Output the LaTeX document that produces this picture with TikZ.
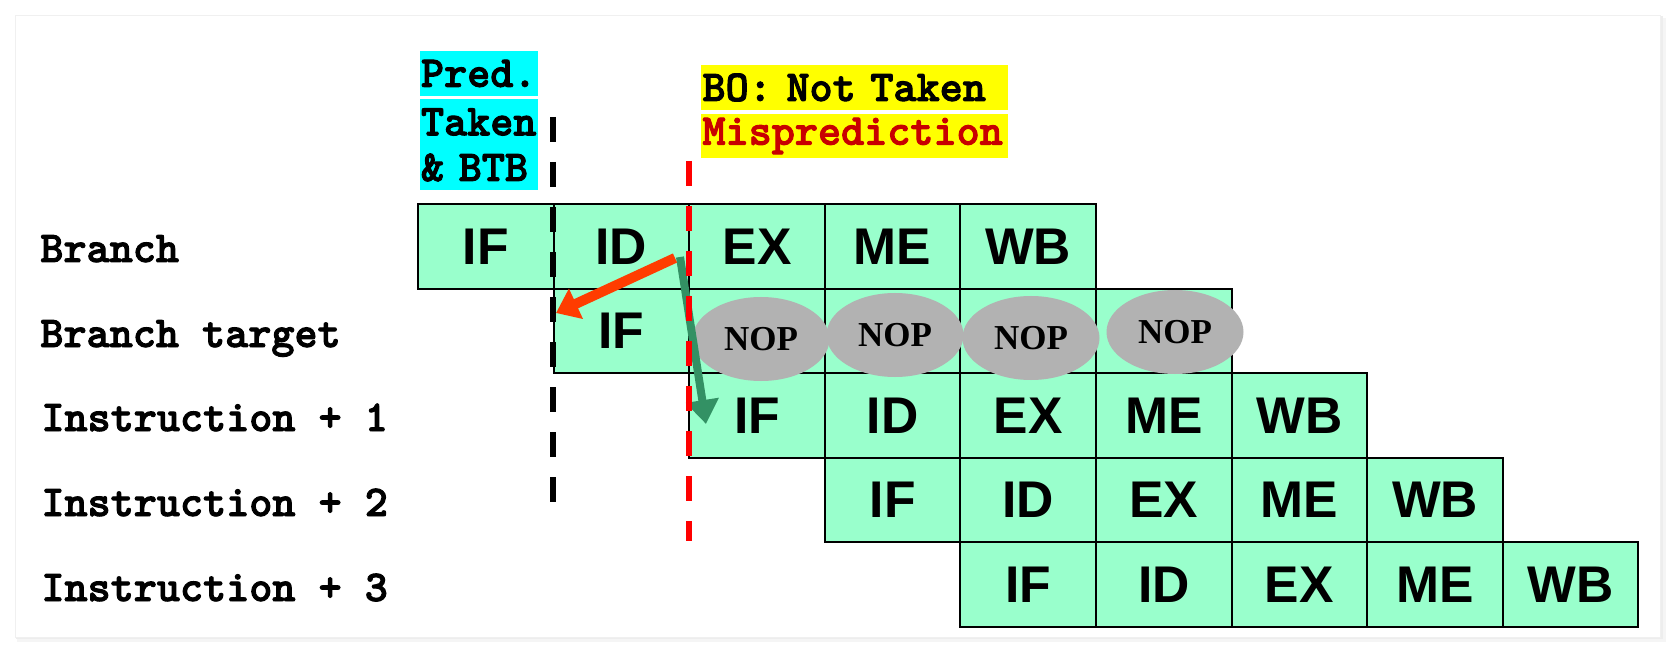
\documentclass[tikz,border=0pt]{standalone}
\usepackage{fontspec}
\setmainfont{Liberation Serif}
\newfontfamily\monob{lmmonolt10-bold.otf}[FakeBold=2.2]
\newfontfamily\sansb{Liberation Sans}
\usetikzlibrary{shapes.geometric,arrows.meta}
\definecolor{mint}{RGB}{153,255,204}
\definecolor{nopgray}{RGB}{178,178,178}
\definecolor{cyanbox}{RGB}{0,255,255}
\definecolor{yellowbox}{RGB}{255,255,0}
\definecolor{mispred}{RGB}{200,0,0}
\definecolor{redarrow}{RGB}{255,60,0}
\definecolor{greenarrow}{RGB}{51,145,100}
\definecolor{dashred}{RGB}{255,0,0}
\tikzset{
  cell/.style={draw=black, line width=1pt, fill=mint, minimum width=67.8pt, minimum height=42.3pt, inner sep=0pt,
    font=\sansb\bfseries\fontsize{25.8}{30}\selectfont},
  rowlabel/.style={inner sep=0pt, font=\monob\fontsize{22}{24}\selectfont},
  hdr/.style={inner sep=0pt, outer sep=0pt, font=\monob\fontsize{22}{24}\selectfont, align=left},
  nop/.style={ellipse, fill=nopgray, minimum width=68.5pt, minimum height=42pt, inner sep=0pt,
    font=\bfseries\fontsize{17.5}{20}\selectfont},
  redarr/.style={draw=redarrow, line width=5pt, -{Triangle[length=11pt,width=16pt]}},
  greenarr/.style={draw=greenarrow, line width=4pt, -{Triangle[length=12pt,width=16pt]}},
  dashline/.style={line width=3pt, dash pattern=on 12.5pt off 10pt}
}
\begin{document}
\begin{tikzpicture}[x=0.5pt,y=-0.5pt]
\useasboundingbox (0,0) rectangle (1676,652);
% panel with shadow
\fill[black!4] (17,18) rectangle (1666,642);
\fill[black!7] (16,16) rectangle (1663,639);
\fill[white] (15,15) rectangle (1660,637);
\draw[black!6, line width=0.4pt] (15,15) rectangle (1660,637);

% header boxes
\node[hdr, fill=cyanbox, minimum width=59pt, minimum height=22.5pt, text width=58pt] (pred) at (479,73.5) {Pred.};
\node[hdr, fill=cyanbox, minimum width=59pt, minimum height=23pt, text width=58pt] (taken) at (479,122) {Taken};
\node[hdr, fill=cyanbox, minimum width=59pt, minimum height=22.5pt, text width=58pt] (btb) at (479,167.5) {\&~BTB};
\node[hdr, fill=yellowbox, minimum width=153.5pt, minimum height=22.5pt, text width=152pt] (bo) at (854.5,87.5) {BO: Not Taken};
\node[hdr, fill=yellowbox, minimum width=153.5pt, minimum height=22pt, text width=152pt, text=mispred] (mis) at (854.5,136) {Misprediction};

% row labels
\node[rowlabel, anchor=base west] (l0) at (40,262) {Branch};
\node[rowlabel, anchor=base west] (l1) at (40,347) {Branch target};
\node[rowlabel, anchor=base west] (l2) at (41,431) {Instruction + 1};
\node[rowlabel, anchor=base west] (l3) at (41,516) {Instruction + 2};
\node[rowlabel, anchor=base west] (l4) at (41,601) {Instruction + 3};

% pipeline cells
\foreach \r in {0,2,3,4}{
  \foreach \s [count=\c from 0] in {IF,ID,EX,ME,WB}{
    \node[cell] (r\r-\c) at ({418+(\r+\c+0.5)*135.6},{204+(\r+0.5)*84.6}) {\s};
  }
}
\node[cell] (r1-0) at ({418+1.5*135.6},{204+1.5*84.6}) {IF};
\foreach \c in {1,...,4}{
  \node[cell] (r1-\c) at ({418+(1+\c+0.5)*135.6},{204+1.5*84.6}) {};
}

% NOP bubbles
\node[nop] (n1) at (761,339) {NOP};
\node[nop] (n2) at (895,335) {NOP};
\node[nop] (n3) at (1031,338) {NOP};
\node[nop] (n4) at (1175,332) {NOP};

% arrows
\coordinate (ga) at (680,257);
\coordinate (gb) at (706,424);
\coordinate (ra) at (675,258);
\coordinate (rb) at (556,313);
\draw[greenarr] (ga) -- (gb);
\draw[redarr] (ra) -- (rb);

% dashed lines
\coordinate (bk1) at (553,117);
\coordinate (bk2) at (553,502);
\coordinate (rd1) at (689,161);
\coordinate (rd2) at (689,541);
\draw[dashline, black] (bk1) -- (bk2);
\draw[dashline, dashred] (rd1) -- (rd2);
\end{tikzpicture}
\end{document}
